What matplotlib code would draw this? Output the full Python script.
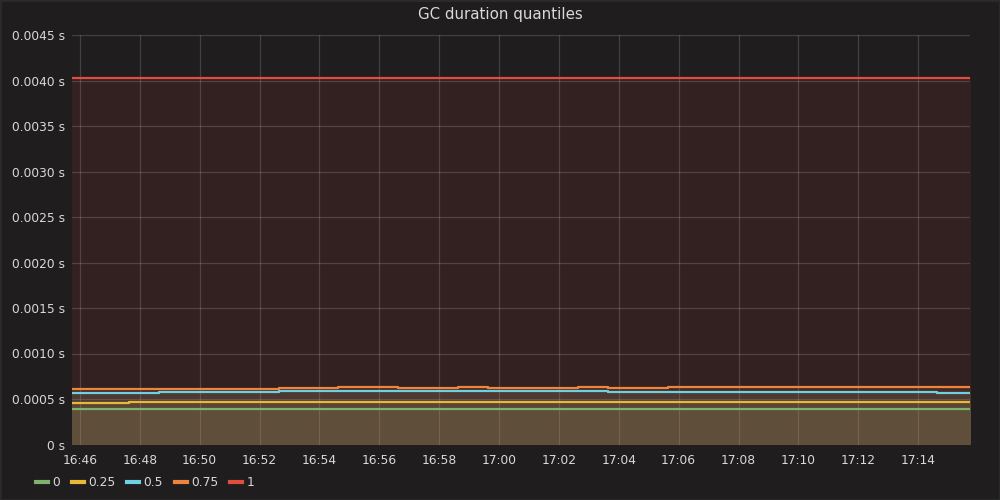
import matplotlib
matplotlib.use("Agg")
import matplotlib.pyplot as plt
import matplotlib.dates as mdates
import numpy as np
import datetime as dt

# ---- data (sample every minute, starting 16:45:38) ----
start_time = dt.datetime(2024, 1, 1, 16, 45, 38)
n_points = 32
times = [start_time + dt.timedelta(minutes=i) for i in range(n_points)]

q0 = [0.000386] * 32
q025 = ([0.000453] * 2 + [0.000462] * 7 + [0.000468] * 6 + [0.000462] * 2 +
        [0.000466] * 4 + [0.000472] * 2 + [0.000464] * 4 + [0.000468] * 5)
q05 = ([0.000569] * 3 + [0.000580] * 4 + [0.000587] * 4 + [0.000583] * 3 +
       [0.000585] * 3 + [0.000587] * 1 + [0.000580] * 11 + [0.000567] * 3)
q075 = ([0.000613] * 7 + [0.000620] * 2 + [0.000635] * 2 + [0.000624] * 2 +
        [0.000635] * 1 + [0.000622] * 3 + [0.000635] * 1 + [0.000622] * 2 +
        [0.000635] * 3 + [0.000628] * 1 + [0.000635] * 8)
q1 = [0.004032] * 32

series_labels = ["0", "0.25", "0.5", "0.75", "1"]
series_values = [q0, q025, q05, q075, q1]
series_colors = ["#7EB26D", "#EAB839", "#6ED0E0", "#EF843C", "#E24D42"]

y_ticks = [0, 0.0005, 0.0010, 0.0015, 0.0020, 0.0025, 0.0030, 0.0035, 0.0040, 0.0045]
y_tick_labels = ["0 s", "0.0005 s", "0.0010 s", "0.0015 s", "0.0020 s", "0.0025 s",
                 "0.0030 s", "0.0035 s", "0.0040 s", "0.0045 s"]

x_start = dt.datetime(2024, 1, 1, 16, 45, 44)
x_end = dt.datetime(2024, 1, 1, 17, 15, 44)

# ---- style ----
bg = "#1f1d1d"
text_color = "#d8d9da"

plt.rcParams['font.family'] = ['DejaVu Sans']

fig = plt.figure(figsize=(10, 5), dpi=100, facecolor=bg)
ax = fig.add_axes([0.072, 0.111, 0.898, 0.819])
ax.set_facecolor(bg)

for vals, col, lab in zip(series_values, series_colors, series_labels):
    ax.fill_between(times, 0, vals, step="post", color=col, alpha=0.1, linewidth=0)
    ax.plot(times, vals, drawstyle="steps-post", color=col, linewidth=1.6, label=lab)

ax.set_xlim(x_start, x_end)
ax.set_ylim(0, 0.0045)
ax.set_yticks(y_ticks)
ax.set_yticklabels(y_tick_labels)

ax.xaxis.set_major_locator(mdates.MinuteLocator(byminute=range(0, 60, 2)))
ax.xaxis.set_major_formatter(mdates.DateFormatter("%H:%M"))

ax.grid(True, color="white", alpha=0.16, linewidth=0.9)
ax.set_axisbelow(True)
for s in ax.spines.values():
    s.set_visible(False)
ax.tick_params(axis="both", length=0, colors=text_color, labelsize=8.8)
ax.tick_params(axis="x", pad=7)
ax.tick_params(axis="y", pad=5)

fig.text(0.5, 0.97, "GC duration quantiles", ha="center", va="center",
         color=text_color, fontsize=10.8, fontweight="medium")

leg = fig.legend(loc="lower left", bbox_to_anchor=(0.025, 0.0), ncol=5, frameon=False,
                 handlelength=1.0, handletextpad=0.35, columnspacing=0.95,
                 fontsize=8.8, labelcolor=text_color)
for h in leg.get_lines():
    h.set_linewidth(3)

fig.patches.append(plt.Rectangle((0, 0), 1, 1, transform=fig.transFigure,
                                 fill=False, edgecolor="#2c2b2b", linewidth=2))

fig.savefig("out.png", dpi=100, facecolor=bg)
